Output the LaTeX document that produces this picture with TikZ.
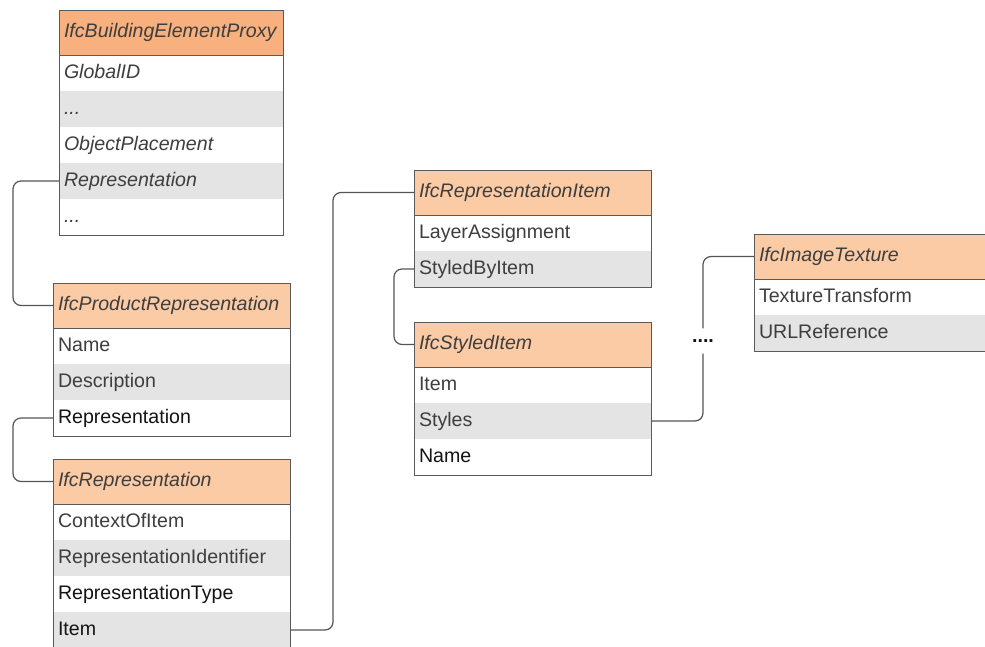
\documentclass[tikz,border=0pt]{standalone}
\usepackage{fontspec}
\setmainfont{Liberation Sans}

\definecolor{boxline}{HTML}{5A5A5A}
\definecolor{hdrstrong}{HTML}{F7B07E}
\definecolor{hdrfill}{HTML}{FBCBA6}
\definecolor{rowgray}{HTML}{E4E4E4}
\definecolor{txt}{HTML}{3E3E3E}
\definecolor{txtdark}{HTML}{141414}
\definecolor{wire}{HTML}{555555}

\newcommand\moreattrs{...}

\tikzset{
  cell/.style={anchor=north west, outer sep=0pt,
    inner xsep=5pt, inner ysep=0pt, align=left,
    text height=14pt, text depth=4pt, text=txt,
    font=\fontsize{19.6}{22}\selectfont},
  headcell/.style={cell, fill=hdrfill, minimum height=45pt,
    font=\fontsize{19.6}{22}\selectfont\itshape},
  rowcell/.style={cell, minimum height=36pt},
  frame/.style={draw=boxline, line width=1pt},
  conn/.style={draw=wire, line width=1.2pt, rounded corners=8pt},
  dots/.style={inner sep=0pt, minimum height=25pt, text=txtdark,
    font=\fontsize{19.6}{22}\selectfont\bfseries}
}

% #1 name, #2 x, #3 y, #4 width, #5 extra header options, #6 header, #7 rows
\newcommand\ifctable[7]{%
  \pgfmathsetmacro\cellw{#4-10}%
  \node[headcell,#5,text width=\cellw pt] (#1-0) at (#2,#3) {#6};%
  \foreach \t [count=\i] in {#7}{%
    \pgfmathtruncatemacro\p{\i-1}%
    \ifodd\i\relax\def\rowfill{white}\else\def\rowfill{rowgray}\fi
    \node[rowcell, fill=\rowfill, text width=\cellw pt] (#1-\i) at (#1-\p.south west) {\t};%
    \xdef\lastrow{\i}%
  }%
  \draw[frame] (#1-0.south west) -- (#1-0.south east);%
  \draw[frame] (#1-0.north west) rectangle (#1-\lastrow.south east);%
}

\begin{document}
\begin{tikzpicture}[x=1pt,y=-1pt]
  \clip (0,0) rectangle (985,646);
  \fill[white] (0,0) rectangle (985,646);

  \ifctable{proxy}{59}{10}{224}{fill=hdrstrong}{IfcBuildingElementProxy}
    {{\itshape GlobalID},{\itshape\moreattrs},{\itshape ObjectPlacement},{\itshape Representation},{\itshape\moreattrs}}
  \ifctable{prodrep}{53}{283}{237}{}{IfcProductRepresentation}
    {Name,Description,{\color{txtdark}Representation}}
  \ifctable{rep}{53}{459}{237}{}{IfcRepresentation}
    {ContextOfItem,RepresentationIdentifier,{\color{txtdark}RepresentationType},{\color{txtdark}Item}}
  \ifctable{ritem}{414}{170}{237}{}{IfcRepresentationItem}
    {LayerAssignment,StyledByItem}
  \ifctable{styled}{414}{322}{237}{}{IfcStyledItem}
    {Item,Styles,{\color{txtdark}Name}}
  \ifctable{tex}{754}{234}{240}{}{IfcImageTexture}
    {TextureTransform,URLReference}

  \node[dots] (gap) at (703,341) {....};

  % links between attribute rows and referenced entities
  \draw[conn] (proxy-4.west) -- ++(-46,0) |- (prodrep-0.west);
  \draw[conn] (prodrep-3.west) -- ++(-40,0) |- (rep-0.west);
  \draw[conn] (rep-4.east) -- ++(43,0) |- (ritem-0.west);
  \draw[conn] (ritem-2.west) -- ++(-20,0) |- (styled-0.west);
  \draw[conn] (styled-2.east) -| (gap.south);
  \draw[conn] (gap.north) |- (tex-0.west);
\end{tikzpicture}
\end{document}
